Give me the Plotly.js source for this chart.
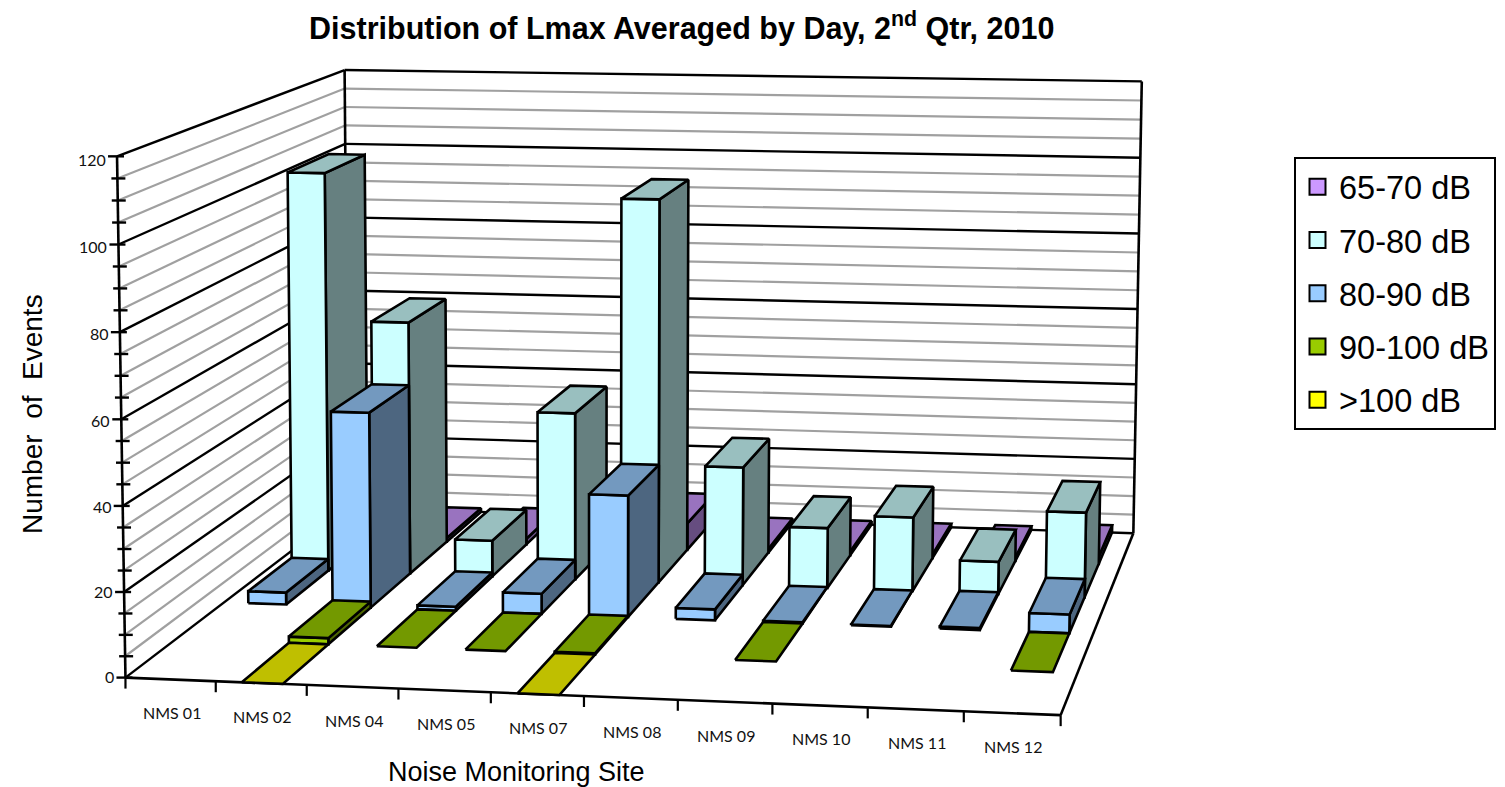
<!DOCTYPE html>
<html>
<head>
<meta charset="utf-8">
<script src="https://cdn.plot.ly/plotly-3.0.1.min.js"></script>
<style>html,body{margin:0;padding:0;background:#fff}#chart{width:1505px;height:787px}</style>
</head>
<body>
<div id="chart"></div>
<script>
// ---------- data ----------
var sites = ['NMS 01','NMS 02','NMS 04','NMS 05','NMS 07','NMS 08','NMS 09','NMS 10','NMS 11','NMS 12'];
var seriesNames = ['65-70 dB','70-80 dB','80-90 dB','90-100 dB','>100 dB'];
var v65_70  = [1, 1, 1.5, 1, 7, 1, 1, 1, 1, 2];
var v70_80  = [102, 64.5, 9.2, 42.5, 97, 30, 15.3, 18.7, 8.2, 21.3];
var v80_90  = [3, 48.5, 1, 5, 30, 2.7, 0.3, 0.2, 0.5, 4.6];
var v90_100 = [null, 1.5, 0, 0, 0.3, null, 0, null, null, 0];
var v100    = [null, 0, null, null, 0, null, null, null, null, null];
var yTicks  = [0, 20, 40, 60, 80, 100, 120];
var yMinor  = 5, yMax = 120;

// ---------- colours ----------
var front = ['#CC99FF','#CCFFFF','#99CCFF','#99CC00','#FFFF00'];
var top_  = ['#9973BF','#99BFBF','#7399BF','#739900','#BFBF00'];
var side  = ['#664D80','#668080','#4D6680','#4D6600','#808000'];

// ---------- projection of the chart's 3-D box on the page (fitted on the frame) ----------
var anchors = [
  [0,0,0, 127,677],[0,0,1, 116,157],[0,1,0, 347,511],[0,1,1, 345.7,69],
  [1,1,0, 1133.5,532],[1,1,1, 1141.5,82],[1,0,0, 1061,716],[0.5,0,0, 584,696],[0.128,0.2,0, 287,644],
  [0.1285,0.4,0.0125, 331.7,599.3],[0.0287,0.6,0.025, 293,555]
];
function fit(a){
  var n=11, A=[], b=[], i,j,k;
  for(i=0;i<n;i++){A.push(new Array(n).fill(0)); b.push(0);}
  function add(r,t){for(i=0;i<n;i++){b[i]+=r[i]*t;for(j=0;j<n;j++)A[i][j]+=r[i]*r[j];}}
  a.forEach(function(p){
    var x=p[3]/1000,y=p[4]/1000,u=p[0],v=p[1],w=p[2];
    add([u,v,w,1,0,0,0,0,-x*u,-x*v,-x*w],x);
    add([0,0,0,0,u,v,w,1,-y*u,-y*v,-y*w],y);
  });
  for(i=0;i<n;i++){
    var m=i;for(k=i+1;k<n;k++)if(Math.abs(A[k][i])>Math.abs(A[m][i]))m=k;
    var t=A[i];A[i]=A[m];A[m]=t;t=b[i];b[i]=b[m];b[m]=t;
    for(k=i+1;k<n;k++){var f=A[k][i]/A[i][i];for(j=i;j<n;j++)A[k][j]-=f*A[i][j];b[k]-=f*b[i];}
  }
  var s=new Array(n).fill(0);
  for(i=n-1;i>=0;i--){var q=b[i];for(j=i+1;j<n;j++)q-=A[i][j]*s[j];s[i]=q/A[i][i];}
  return s;
}
var M=fit(anchors);
function P(u,v,val){
  var w=val/yMax, d=M[8]*u+M[9]*v+M[10]*w+1;
  return [1000*(M[0]*u+M[1]*v+M[2]*w+M[3])/d, 1000*(M[4]*u+M[5]*v+M[6]*w+M[7])/d];
}

// ---------- helpers ----------
var nSites=sites.length, nSer=seriesNames.length, barFrac=0.45, barShift=0.012;
var data=[], annotations=[];
function segs(list,color,width){
  var x=[],y=[];
  list.forEach(function(s){s.forEach(function(p){x.push(p[0]);y.push(p[1]);});x.push(null);y.push(null);});
  data.push({type:'scatter',mode:'lines',x:x,y:y,line:{color:color,width:width},hoverinfo:'skip',showlegend:false});
}
function polys(list,fill){
  var x=[],y=[];
  list.forEach(function(s){s.forEach(function(p){x.push(p[0]);y.push(p[1]);});x.push(s[0][0],null);y.push(s[0][1],null);});
  data.push({type:'scatter',mode:'lines',x:x,y:y,fill:'toself',fillcolor:fill,
    line:{color:'#000',width:2.6,shape:'linear'},hoverinfo:'skip',showlegend:false});
}

// ---------- walls, floor ----------
var minorLines=[], majorLines=[], z;
for(z=0;z<=yMax;z+=yMinor){
  var seg=[[P(0,0,z),P(0,1,z)],[P(0,1,z),P(1,1,z)]];
  if(z%20===0) majorLines=majorLines.concat(seg); else minorLines=minorLines.concat(seg);
}
segs(minorLines,'#A0A0A0',2.2);
segs(majorLines,'#000',2.4);
segs([[P(0,1,0),P(0,1,yMax)],[P(1,1,0),P(1,1,yMax)],[P(0,0,0),P(0,0,yMax)],
      [P(0,0,0),P(1,0,0)],[P(1,0,0),P(1,1,0)]],'#000',2.6);

// value-axis ticks
var tickMinor=[], tickMajor=[];
for(z=0;z<=yMax;z+=yMinor){
  var p=P(0,0,z);
  if(z%20===0) tickMajor.push([[p[0]-9,p[1]],[p[0]+7,p[1]]]);
  else tickMinor.push([[p[0]-6,p[1]],[p[0]+8,p[1]]]);
}
segs(tickMinor.concat(tickMajor),'#000',2.4);
// category-axis ticks
var tickX=[], i;
for(i=0;i<=nSites;i++){var q=P(i/nSites,0,0);tickX.push([q,[q[0],q[1]+11]]);}
segs(tickX,'#000',2.2);

// ---------- bars: back row first ----------
var allSeries=[v65_70,v70_80,v80_90,v90_100,v100];
for(var s=0;s<nSer;s++){
  var v0=(nSer-1-s)/nSer, v1=v0+1/nSer, F=[],R=[],T=[];
  allSeries[s].forEach(function(val,k){
    if(val===null) return;
    var u0=(k+barShift+(1-barFrac)/2)/nSites, u1=(k+barShift+(1+barFrac)/2)/nSites;
    if(val>0){
      F.push([P(u0,v0,0),P(u1,v0,0),P(u1,v0,val),P(u0,v0,val)]);
      R.push([P(u1,v0,0),P(u1,v1,0),P(u1,v1,val),P(u1,v0,val)]);
    }
    T.push([P(u0,v0,val),P(u1,v0,val),P(u1,v1,val),P(u0,v1,val)]);
  });
  polys(R,side[s]); polys(F,front[s]); polys(T,top_[s]);
}

// ---------- legend ----------
seriesNames.forEach(function(n,k){
  data.push({type:'scatter',mode:'markers',x:[null],y:[null],name:n,legendgroup:n,
    marker:{symbol:'square',size:16,color:front[k],line:{color:'#000',width:2}},hoverinfo:'skip'});
});

// ---------- text ----------
yTicks.forEach(function(t){
  var p=P(0,0,t);
  annotations.push({x:p[0]-9,y:p[1]-1+4*t/yMax,xref:'x',yref:'y',text:String(t),showarrow:false,xanchor:'right',yanchor:'middle',
    font:{family:'Lato',size:16,color:'#111'}});
});
sites.forEach(function(n,k){
  var p=P((k+0.5)/nSites,0,0);
  annotations.push({x:p[0]+1,y:p[1]+33.5,xref:'x',yref:'y',text:n,showarrow:false,xanchor:'center',yanchor:'middle',
    font:{family:'Lato',size:16,color:'#111'}});
});
annotations.push({x:516,y:772,xref:'x',yref:'y',text:'Noise Monitoring Site',showarrow:false,xanchor:'center',yanchor:'middle',
  font:{family:'Liberation Sans',size:27,color:'#000'}});
annotations.push({x:32,y:414,xref:'x',yref:'y',text:'Number  of  Events',showarrow:false,textangle:-90,xanchor:'center',yanchor:'middle',
  font:{family:'Liberation Sans',size:28,color:'#000'}});

var layout={
  width:1505,height:787,margin:{l:0,r:0,t:0,b:0},paper_bgcolor:'#fff',plot_bgcolor:'#fff',
  title:{text:'Distribution of Lmax Averaged by Day, 2<sup>nd</sup> Qtr, 2010',x:0.453,xref:'paper',y:0.964,yanchor:'middle',
    font:{family:'Liberation Sans',size:30.5,color:'#000',weight:'bold'}},
  xaxis:{range:[0,1505],visible:false,fixedrange:true},
  yaxis:{range:[787,0],visible:false,fixedrange:true},
  showlegend:true,
  legend:{x:1294/1505,y:1-157/787,xanchor:'left',yanchor:'top',bgcolor:'#fff',bordercolor:'#000',borderwidth:2,
    font:{family:'Liberation Sans',size:32.5,color:'#000'},tracegroupgap:8,itemwidth:33,entrywidth:152,itemclick:false,itemdoubleclick:false,traceorder:'grouped'},
  annotations:annotations
};
Plotly.newPlot('chart',data,layout,{displayModeBar:false,staticPlot:true});
</script>
</body>
</html>
